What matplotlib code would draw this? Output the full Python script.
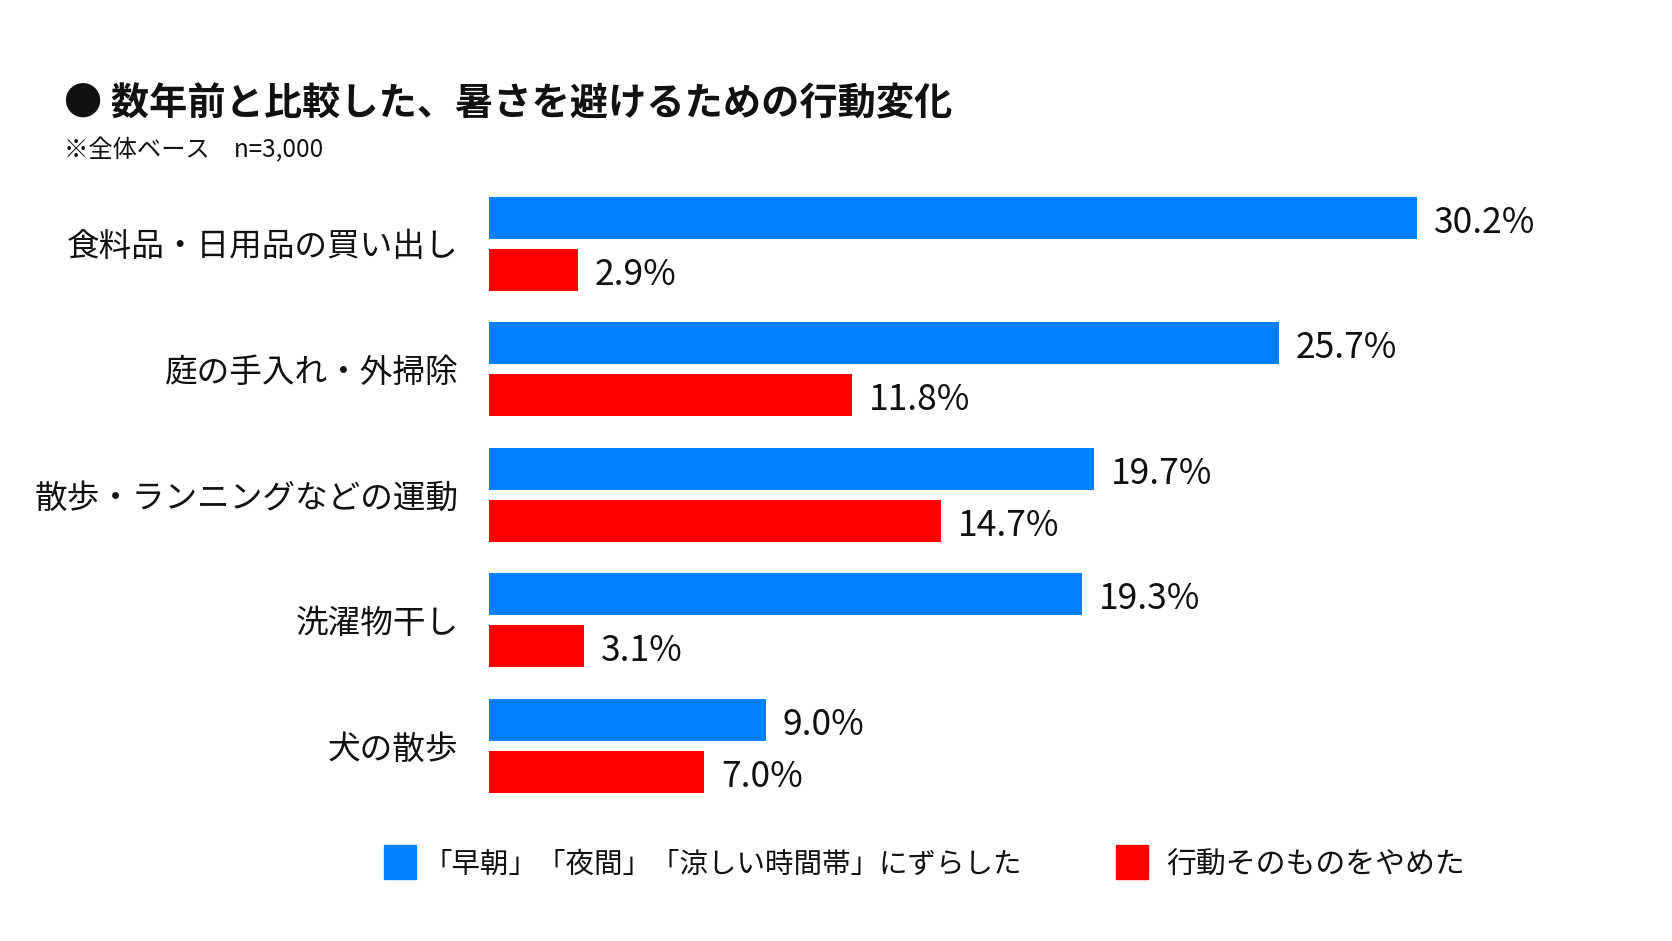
import matplotlib
matplotlib.use("Agg")
import matplotlib.pyplot as plt
from matplotlib.patches import Rectangle
import numpy as np

plt.rcParams['font.family'] = ['Noto Sans CJK JP', 'DejaVu Sans']

title = "● 数年前と比較した、暑さを避けるための行動変化"
subtitle = "※全体ベース　n=3,000"
categories = ["食料品・日用品の買い出し", "庭の手入れ・外掃除", "散歩・ランニングなどの運動",
              "洗濯物干し", "犬の散歩"]
shifted = [30.2, 25.7, 19.7, 19.3, 9.0]
stopped = [2.9, 11.8, 14.7, 3.1, 7.0]
series_names = ["「早朝」「夜間」「涼しい時間帯」にずらした", "行動そのものをやめた"]
colors = ["#0080FF", "#FF0000"]

W, H = 1672, 941
fig = plt.figure(figsize=(W / 100, H / 100), dpi=100)
fig.patch.set_facecolor("white")

# axes: x from 489px to 1489px, y from 180px to 810px (from top)
ax = fig.add_axes([489 / W, 1 - 810 / H, 1000 / W, 630 / H])
ax.set_xlim(0, 1000 / 30.73)
ax.set_ylim(4.51, -0.506)

y = np.arange(len(categories))
off = 0.207
hgt = 0.334
ax.barh(y - off, shifted, height=hgt, color=colors[0])
ax.barh(y + off, stopped, height=hgt, color=colors[1])

for i in range(len(categories)):
    ax.text(shifted[i] + 0.55, y[i] - off + 0.04, f"{shifted[i]:.1f}%", va="center", ha="left",
            fontsize=25.5, color="#111111")
    ax.text(stopped[i] + 0.55, y[i] + off + 0.04, f"{stopped[i]:.1f}%", va="center", ha="left",
            fontsize=25.5, color="#111111")

ax.set_yticks(y)
ax.set_yticklabels(categories, fontsize=23.5, color="#111111")
ax.tick_params(axis="y", length=0, pad=22)
ax.set_xticks([])
for s in ax.spines.values():
    s.set_visible(False)

fig.text(64 / W, 1 - 104 / H, title, fontsize=27.5, fontweight="bold", va="center", ha="left",
         color="#111111")
fig.text(64 / W, 1 - 150 / H, subtitle, fontsize=17.5, va="center", ha="left", color="#111111")

# legend
leg_y = 862
for x0, xt, name, c, fs in [(384, 424, series_names[0], colors[0], 20.5),
                            (1116, 1166, series_names[1], colors[1], 21.5)]:
    fig.add_artist(Rectangle((x0 / W, 1 - (leg_y + 17) / H), 32 / W, 34 / H,
                             transform=fig.transFigure, color=c))
    fig.text(xt / W, 1 - (leg_y + 3) / H, name, fontsize=fs, va="center", ha="left",
             color="#111111")

fig.savefig("out.png", dpi=100, facecolor="white")
